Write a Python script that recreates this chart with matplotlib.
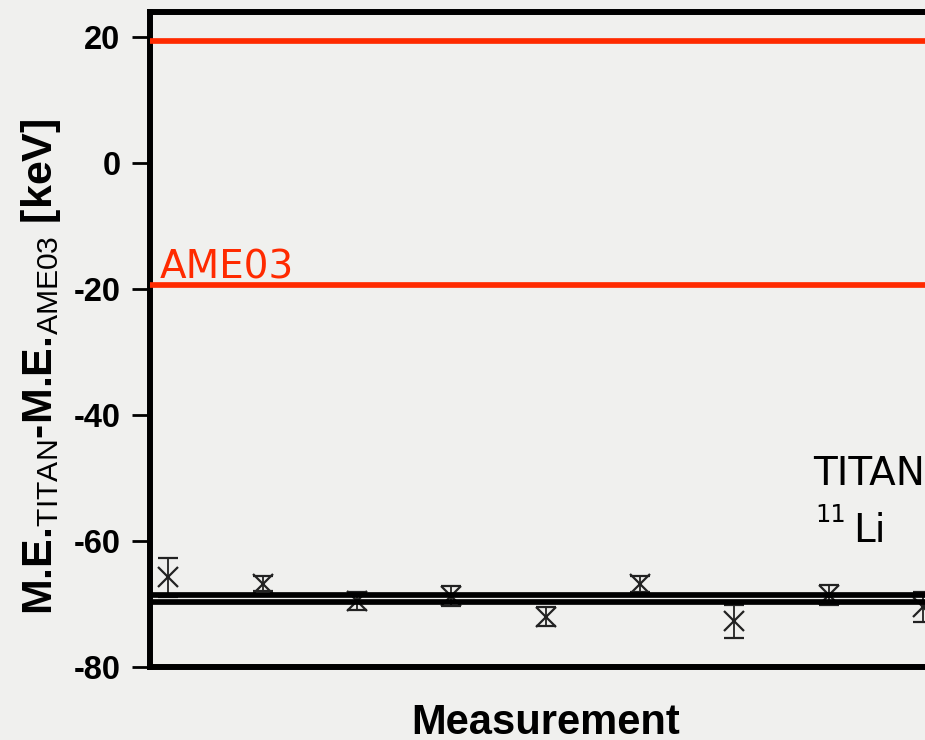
import matplotlib
matplotlib.use("Agg")
import matplotlib.pyplot as plt
import numpy as np

# TITAN 11Li mass excess measurements relative to AME03 (keV)
measurement = [1, 2, 3, 4, 5, 6, 7, 8, 9]
delta_me = [-65.7, -66.7, -69.5, -68.7, -71.95, -66.8, -72.7, -68.55, -70.4]
delta_err = [3.1, 1.25, 1.4, 1.55, 1.5, 1.25, 2.6, 1.55, 2.4]

# Weighted TITAN mean band and AME03 uncertainty band
titan_band = [-68.45, -69.7]
ame03_band = [19.4, -19.4]

yticks = [20, 0, -20, -40, -60, -80]

plt.rcParams["axes.unicode_minus"] = False
plt.rcParams["mathtext.fontset"] = "custom"
plt.rcParams["mathtext.rm"] = "Liberation Sans:bold"
plt.rcParams["mathtext.bf"] = "Liberation Sans:bold"
plt.rcParams["mathtext.sf"] = "Liberation Sans"

W, H = 925, 740
bg = "#f0f0ee"
fig = plt.figure(figsize=(W / 100, H / 100), dpi=100, facecolor=bg)

left_px, right_px, top_px, bot_px = 149.5, 942.0, 11.7, 667.4
ax = fig.add_axes([left_px / W, 1 - bot_px / H,
                   (right_px - left_px) / W, (bot_px - top_px) / H])
ax.set_facecolor("none")
ax.set_xlim(0.8, 9.2)
ax.set_ylim(-80, 24.0)

for y in ame03_band:
    ax.axhline(y, color="#ff2a00", lw=4.1, zorder=3)
for y in titan_band:
    ax.axhline(y, color="black", lw=4.1, zorder=3)

ax.errorbar(measurement, delta_me, yerr=delta_err, fmt="x", color="#222222",
            ms=14, mew=1.6, elinewidth=1.3, capsize=7, capthick=1.6,
            zorder=2, clip_on=True)

for side in ["left", "top", "bottom"]:
    ax.spines[side].set_linewidth(4.3)
    ax.spines[side].set_color("black")
ax.spines["right"].set_visible(False)

ax.set_xticks([])
ax.set_yticks(yticks)
ax.set_yticklabels([str(t) for t in yticks], fontfamily="Liberation Sans",
                   fontweight="bold", fontsize=23.5)
ax.tick_params(axis="y", direction="out", length=12.8, width=2.0, pad=8,
               colors="black")

ax.text(0.912, -18.25, "AME03", color="#ff2a00", fontsize=28,
        fontfamily="DejaVu Sans", ha="left", va="baseline", zorder=4)
ax.text(7.83, -51.1, "TITAN", color="black", fontsize=28,
        fontfamily="DejaVu Sans", ha="left", va="baseline", zorder=4)
ax.text(7.86, -57.0, "11", color="black", fontsize=17.5,
        fontfamily="DejaVu Sans", ha="left", va="baseline", zorder=4)
ax.text(8.253, -60.1, "Li", color="black", fontsize=28,
        fontfamily="DejaVu Sans", ha="left", va="baseline", zorder=4)

fig.text((left_px + right_px) / 2 / W, 1 - 734 / H, "Measurement",
         ha="center", va="baseline", fontsize=30, fontweight="bold",
         fontfamily="Liberation Sans")

ylabel = (r"$\text{M.E.}_{\mathsf{TITAN}}\text{-M.E.}_{\mathsf{AME03}}"
          r"\text{ [keV]}$")
fig.text(41.5 / W, 1 - 366.5 / H, ylabel, rotation=90, ha="center",
         va="center", fontsize=31)

fig.savefig("out.png", dpi=100, facecolor=bg)
